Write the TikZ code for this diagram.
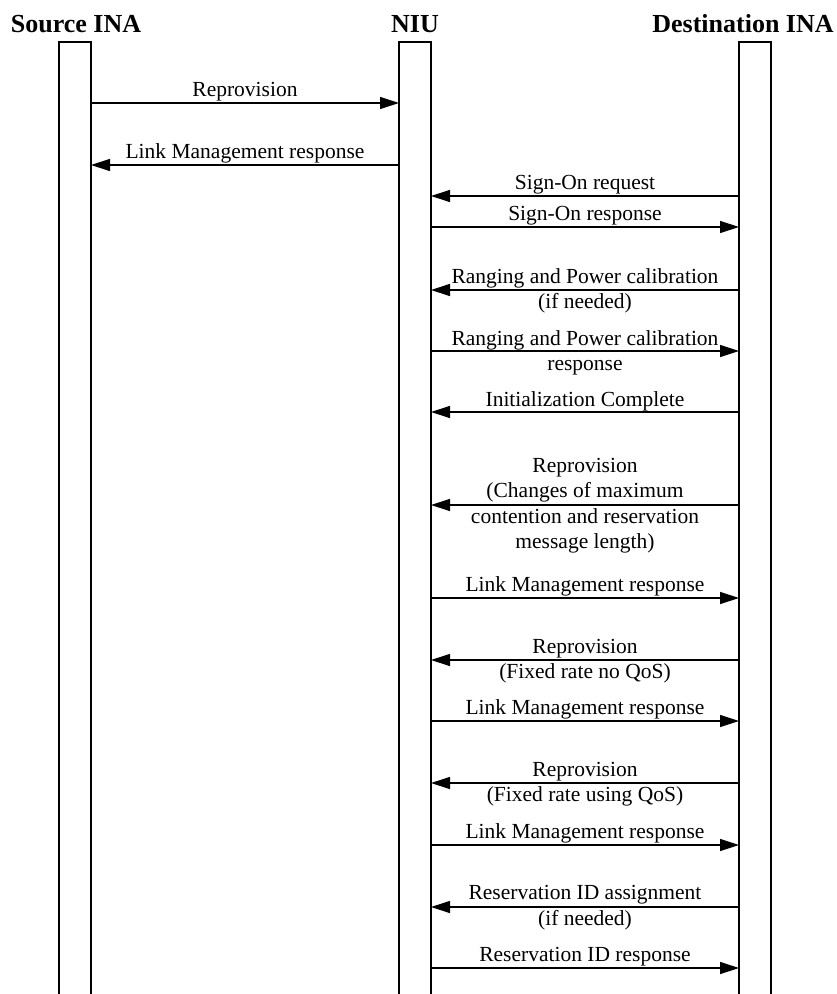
\documentclass[tikz,border=0pt]{standalone}
\usepackage{fontspec}
\setmainfont{Liberation Serif}
\usetikzlibrary{arrows.meta}
\tikzset{
  life/.style={line width=0.6pt},
  msg/.style={line width=0.6pt,-{Triangle[length=9.5pt,width=6pt]}},
  lbl/.style={anchor=base,inner sep=0pt,font=\fontsize{10.75}{12.8}\selectfont},
  head/.style={anchor=base,inner sep=0pt,font=\fontsize{13}{15}\selectfont\bfseries}
}
\begin{document}
\begin{tikzpicture}[x=0.5pt,y=-0.5pt]
\useasboundingbox (0,0) rectangle (836,994);
% headers
\node[head] (srchead) at (76,33) {Source INA};
\node[head] (niuhead) at (415,33) {NIU};
\node[head] (dsthead) at (743,33) {Destination INA};

% lifelines (open at the bottom)
\draw[life] (59,994) -- (59,42) -- (91,42) -- (91,994);
\draw[life] (399,994) -- (399,42) -- (431,42) -- (431,994);
\draw[life] (739,994) -- (739,42) -- (771,42) -- (771,994);
\coordinate (srcR) at (91,0);
\coordinate (niuL) at (399,0);
\coordinate (niuR) at (431,0);
\coordinate (dstL) at (739,0);

% Source INA <-> NIU
\draw[msg] (srcR |- 0,103) -- (niuL |- 0,103);
\draw[msg] (niuL |- 0,165) -- (srcR |- 0,165);
\node[lbl] (l1) at (245,97) {Reprovision};
\node[lbl] (l2) at (245,159) {Link Management response};

% NIU <-> Destination INA
\foreach \y in {227,351,598,721,845,968}
  \draw[msg] (niuR |- 0,\y) -- (dstL |- 0,\y);
\foreach \y in {196,290,412,505,660,783,907}
  \draw[msg] (dstL |- 0,\y) -- (niuR |- 0,\y);

\node[lbl] (l3) at (585,190) {Sign-On request};
\node[lbl] (l4) at (585,221) {Sign-On response};
\node[lbl] (l5a) at (585,284) {Ranging and Power calibration};
\node[lbl] (l5b) at (585,308) {(if needed)};
\node[lbl] (l6a) at (585,345) {Ranging and Power calibration};
\node[lbl] (l6b) at (585,370) {response};
\node[lbl] (l7) at (585,406) {Initialization Complete};
\node[lbl] (l8a) at (585,472) {Reprovision};
\node[lbl] (l8b) at (585,497) {(Changes of maximum};
\node[lbl] (l8c) at (585,523) {contention and reservation};
\node[lbl] (l8d) at (585,548) {message length)};
\node[lbl] (l9) at (585,591) {Link Management response};
\node[lbl] (l10a) at (585,653) {Reprovision};
\node[lbl] (l10b) at (585,678) {(Fixed rate no QoS)};
\node[lbl] (l11) at (585,714) {Link Management response};
\node[lbl] (l12a) at (585,776) {Reprovision};
\node[lbl] (l12b) at (585,801) {(Fixed rate using QoS)};
\node[lbl] (l13) at (585,838) {Link Management response};
\node[lbl] (l14a) at (585,899) {Reservation ID assignment};
\node[lbl] (l14b) at (585,925) {(if needed)};
\node[lbl] (l15) at (585,961) {Reservation ID response};
\end{tikzpicture}
\end{document}
